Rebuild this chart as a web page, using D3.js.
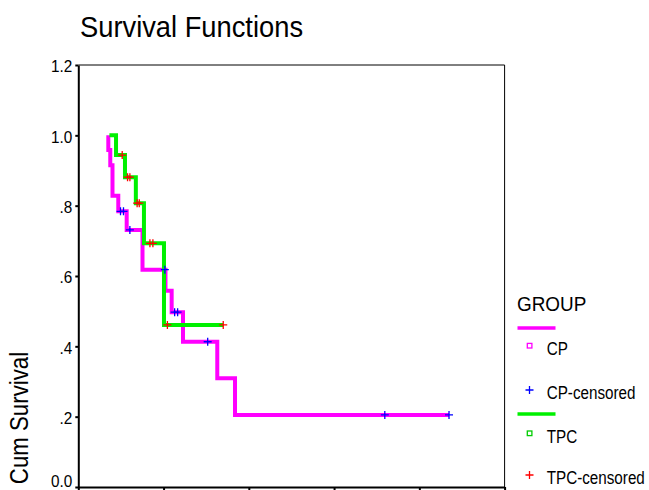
<!DOCTYPE html>
<html>
<head>
<meta charset="utf-8">
<script src="https://cdn.jsdelivr.net/npm/d3@7"></script>
<style>
  html, body { margin: 0; padding: 0; background: #fff; }
  svg { display: block; font-family: "Liberation Sans", Arial, sans-serif; }
</style>
</head>
<body>
<svg id="chart" width="649" height="490"></svg>
<script>
// ---- data ----
const yTickValues = [0, 0.2, 0.4, 0.6, 0.8, 1.0, 1.2];
const yTickLabels = ["0.0", ".2", ".4", ".6", ".8", "1.0", "1.2"];
const xTickValues = [0, 20, 40, 60, 80, 100];

const groupNames = ["CP", "TPC"];

// CP group
const cpStart = 7.04;
const cpEventTimes = [7.04, 7.5, 8.02, 9.38, 11.35, 15.06, 20.45, 21.9, 24.56, 32.6, 36.76];
const cpSurvival   = [0.958, 0.915, 0.828, 0.784, 0.731, 0.618, 0.558, 0.497, 0.413, 0.309, 0.205];
const cpCensorTimes = [9.9, 10.6, 12.1, 20.3, 22.6, 23.3, 30.35, 71.9, 86.96];

// TPC group
const tpcStart = 7.3;
const tpcEventTimes = [8.85, 10.95, 13.5, 15.4, 20.1];
const tpcSurvival   = [0.944, 0.881, 0.807, 0.693, 0.461];
const tpcCensorTimes = [10.3, 11.55, 12.1, 13.8, 14.3, 16.8, 17.5, 20.9, 34.0];

// ---- layout ----
const svg = d3.select("#chart");
const x = d3.scaleLinear().domain([0, 100]).range([78.3, 504.6]);
const y = d3.scaleLinear().domain([0, 1.2]).range([487, 65]);

function condense(sel, f) {
  sel.each(function () {
    const len = this.getComputedTextLength();
    d3.select(this).attr("textLength", len * f).attr("lengthAdjust", "spacingAndGlyphs");
  });
  return sel;
}

function survAt(times, surv, t) {
  let s = 1;
  for (let i = 0; i < times.length; i++) if (times[i] <= t) s = surv[i];
  return s;
}

function buildSeries(start, times, surv, censors) {
  const end = Math.max(d3.max(censors), d3.max(times));
  const pts = [[start, 1]];
  times.forEach((t, i) => pts.push([t, surv[i]]));
  pts.push([end, surv[surv.length - 1]]);
  const cens = censors.map(t => [t, survAt(times, surv, t)]);
  return { pts, cens };
}

const cp = buildSeries(cpStart, cpEventTimes, cpSurvival, cpCensorTimes);
const tpc = buildSeries(tpcStart, tpcEventTimes, tpcSurvival, tpcCensorTimes);

// title
condense(svg.append("text").attr("x", 80).attr("y", 37)
  .attr("font-size", 30).attr("fill", "#000").text("Survival Functions"), 0.91);

// frame (top & right thin)
svg.append("line").attr("x1", x(0)).attr("x2", x(100)).attr("y1", y(1.2)).attr("y2", y(1.2))
  .attr("stroke", "#000").attr("stroke-width", 1);
svg.append("line").attr("x1", x(100)).attr("x2", x(100)).attr("y1", y(1.2)).attr("y2", y(0))
  .attr("stroke", "#000").attr("stroke-width", 1);

// y axis
const yAxis = d3.axisLeft(y).tickValues(yTickValues)
  .tickFormat((d, i) => yTickLabels[i]).tickSize(3).tickSizeOuter(0).tickPadding(3);
const gy = svg.append("g").attr("transform", `translate(${x(0)},0)`).call(yAxis);
gy.select(".domain").attr("stroke", "#000").attr("stroke-width", 2);
gy.selectAll(".tick line").attr("stroke", "#000").attr("stroke-width", 2);
gy.selectAll(".tick text").attr("font-size", 17).attr("fill", "#000")
  .attr("font-family", "Liberation Sans, Arial, sans-serif")
  .attr("x", -6).attr("dy", d => d === 0 ? "-0.05em" : "0.4em");
condense(gy.selectAll(".tick text"), 0.9);

// x axis (labels fall below the visible area)
const xAxis = d3.axisBottom(x).tickValues(xTickValues).tickFormat("").tickSize(3).tickSizeOuter(0);
const gx = svg.append("g").attr("transform", `translate(0,${y(0)})`).call(xAxis);
gx.select(".domain").attr("stroke", "#000").attr("stroke-width", 2);
gx.selectAll(".tick line").attr("stroke", "#000").attr("stroke-width", 2);

// y title
condense(svg.append("text")
  .attr("transform", "translate(28,418) rotate(-90)")
  .attr("text-anchor", "middle").attr("font-size", 25).attr("fill", "#000")
  .text("Cum Survival"), 0.89);

// curves
const line = d3.line().x(d => x(d[0])).y(d => y(d[1])).curve(d3.curveStepAfter);
svg.append("path").datum(cp.pts).attr("d", line)
  .attr("fill", "none").attr("stroke", "#ff00ff").attr("stroke-width", 4);
svg.append("path").datum(tpc.pts).attr("d", line)
  .attr("fill", "none").attr("stroke", "#00f000").attr("stroke-width", 4);

function plus(g, data, color) {
  g.selectAll("path.cens").data(data).join("path").attr("class", "cens")
    .attr("d", d => {
      const cx = x(d[0]), cy = y(d[1]);
      return `M${cx - 4},${cy}H${cx + 4}M${cx},${cy - 4}V${cy + 4}`;
    })
    .attr("stroke", color).attr("stroke-width", 1.3).attr("fill", "none");
}
plus(svg.append("g"), cp.cens, "#0000ff");
plus(svg.append("g"), tpc.cens, "#ff0000");

// legend
const lg = svg.append("g");
condense(lg.append("text").attr("x", 517).attr("y", 310.5).attr("font-size", 21).attr("fill", "#000").text("GROUP"), 0.9);

const legendItems = [
  { kind: "line", color: "#ff00ff", y: 328 },
  { kind: "square", color: "#ff00ff", y: 345.7, label: groupNames[0], ty: 355 },
  { kind: "plus", color: "#0000ff", y: 390, label: groupNames[0] + "-censored", ty: 398.5 },
  { kind: "line", color: "#00f000", y: 414 },
  { kind: "square", color: "#00cc00", y: 433.3, label: groupNames[1], ty: 442.5 },
  { kind: "plus", color: "#ff0000", y: 475, label: groupNames[1] + "-censored", ty: 484 }
];
legendItems.forEach(it => {
  if (it.kind === "line") {
    lg.append("line").attr("x1", 517.5).attr("x2", 555.5).attr("y1", it.y).attr("y2", it.y)
      .attr("stroke", it.color).attr("stroke-width", 3.4);
  } else if (it.kind === "square") {
    lg.append("rect").attr("x", 527.3).attr("y", it.y - 2.3).attr("width", 4.6).attr("height", 4.6)
      .attr("fill", "none").attr("stroke", it.color).attr("stroke-width", 1.3);
  } else {
    lg.append("path").attr("d", `M525.5,${it.y}H533.5M529.5,${it.y - 4}V${it.y + 4}`)
      .attr("stroke", it.color).attr("stroke-width", 1.3).attr("fill", "none");
  }
  if (it.label) {
    condense(lg.append("text").attr("x", 546.7).attr("y", it.ty).attr("font-size", 17.5)
      .attr("fill", "#000").text(it.label), 0.87);
  }
});
</script>
</body>
</html>
